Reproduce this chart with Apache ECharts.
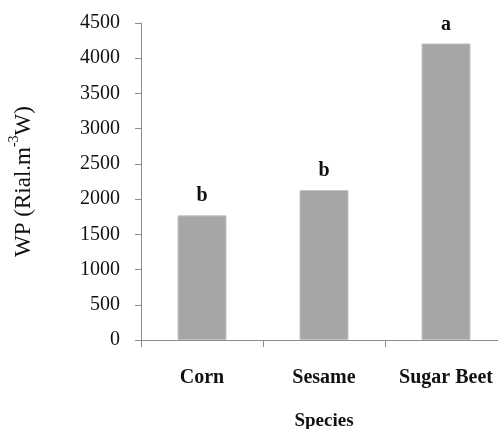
<!DOCTYPE html>
<html>
<head>
<meta charset="utf-8">
<script src="https://cdn.jsdelivr.net/npm/echarts@6/dist/echarts.min.js"></script>
<style>html,body{margin:0;padding:0;background:#fff}#c{width:498px;height:429px}</style>
</head>
<body>
<div id="c"></div>
<script>
var categories = ['Corn', 'Sesame', 'Sugar Beet'];
var values = [1770, 2130, 4210];
var letters = ['b', 'b', 'a'];
var yTicks = {min: 0, max: 4500, interval: 500};

var chart = echarts.init(document.getElementById('c'), null, {renderer: 'canvas'});
var font = '"Liberation Serif", "Times New Roman", serif';
chart.setOption({
  animation: false,
  backgroundColor: '#fff',
  grid: {left: 141, top: 23, bottom: 89, right: -9, containLabel: false, outerBoundsMode: 'none'},
  xAxis: {
    type: 'category',
    data: categories,
    boundaryGap: true,
    name: 'Species',
    nameLocation: 'middle',
    nameGap: 72,
    nameTextStyle: {fontFamily: font, fontSize: 19, fontWeight: 'bold', color: '#111'},
    axisLine: {lineStyle: {color: '#8c8c8c', width: 1}},
    axisTick: {show: true, length: 7, alignWithLabel: false, lineStyle: {color: '#8c8c8c'}},
    axisLabel: {fontFamily: font, fontSize: 20, fontWeight: 'bold', color: '#111', margin: 28, interval: 0, hideOverlap: false}
  },
  yAxis: {
    type: 'value',
    min: yTicks.min, max: yTicks.max, interval: yTicks.interval,
    name: '{a|WP (Rial.m}{s|-3}{a|W)}',
    nameLocation: 'middle',
    nameGap: 106,
    nameRotate: 90,
    nameTextStyle: {
      rich: {
        a: {fontFamily: font, fontSize: 23, color: '#111', lineHeight: 28, verticalAlign: 'bottom'},
        s: {fontFamily: font, fontSize: 14, color: '#111', lineHeight: 28, verticalAlign: 'top'}
      }
    },
    splitLine: {show: false},
    axisLine: {show: true, lineStyle: {color: '#8c8c8c', width: 1}},
    axisTick: {show: true, length: 6, lineStyle: {color: '#8c8c8c'}},
    axisLabel: {fontFamily: font, fontSize: 20, color: '#111', margin: 21, formatter: function (v) { return String(v); }}
  },
  series: [{
    type: 'bar',
    data: values,
    barWidth: 49,
    itemStyle: {color: '#a6a6a6', borderColor: '#c4c4c4', borderWidth: 1},
    label: {
      show: true, position: 'top', distance: 9,
      fontFamily: font, fontSize: 20, fontWeight: 'bold', color: '#111',
      formatter: function (p) { return letters[p.dataIndex]; }
    }
  }]
});
</script>
</body>
</html>
